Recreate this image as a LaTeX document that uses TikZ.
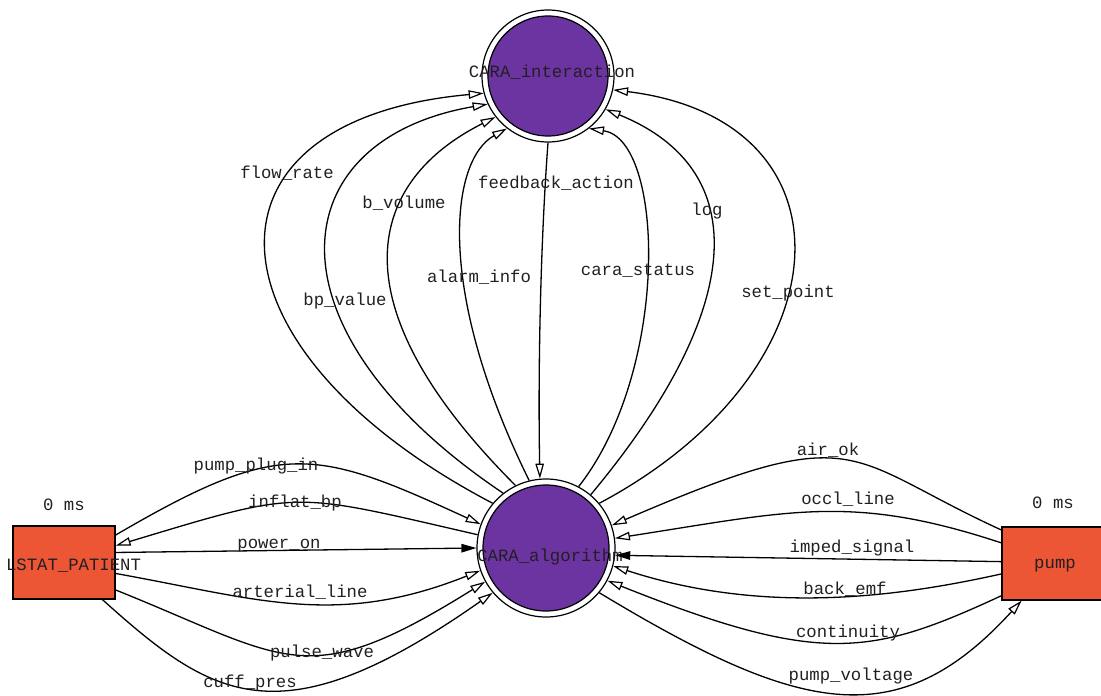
\documentclass[tikz,border=0pt]{standalone}
\usepackage{fontspec}
\setmainfont{Liberation Mono}
\usetikzlibrary{arrows.meta}
\definecolor{nodepurple}{RGB}{108,52,160}
\definecolor{boxred}{RGB}{236,86,52}
\definecolor{inkgray}{RGB}{35,30,35}

\begin{document}
\begin{tikzpicture}[x=1pt,y=-1pt,
  lbl/.style={font=\fontsize{17.3}{17.3}\selectfont, text=inkgray, inner sep=0pt, anchor=base},
  ring/.style={circle, draw, line width=1.2pt, fill=white, inner sep=0pt},
  core/.style={circle, draw, line width=1.2pt, fill=nodepurple, inner sep=0pt},
  box/.style={rectangle, draw, line width=1.2pt, fill=boxred, inner sep=0pt},
  flow/.style={line width=1.3pt, -{Triangle[fill=white, length=15pt, width=8.5pt, line width=1.2pt]}},
  flowsolid/.style={line width=1.3pt, -{Triangle[length=15pt, width=8.5pt]}},
]
\useasboundingbox (0,0) rectangle (1101,696);

% process circles (double ring)
\node[ring, minimum size=132pt] (inter) at (548,76) {};
\node[core, minimum size=120pt] (intercore) at (548,76) {};
\node[lbl] (intertxt) at (552,77) {CARA\_interaction};

\node[ring, minimum size=138pt] (alg) at (546,548) {};
\node[core, minimum size=126pt] (algcore) at (546,548) {};
\node[lbl] (algtxt) at (550,561) {CARA\_algorithm};

% terminator boxes
\node[box, minimum width=102pt, minimum height=73pt] (lstat) at (64,562.5) {};
\node[lbl] (lstattxt) at (73.5,570) {LSTAT\_PATIENT};
\node[lbl] (lstatms) at (64,510) {0 ms};

\node[box, minimum width=106pt, minimum height=73pt] (pump) at (1055,563.5) {};
\node[lbl] (pumptxt) at (1055,568) {pump};
\node[lbl] (pumpms) at (1053,508) {0 ms};

% LSTAT_PATIENT <-> CARA_algorithm
\draw[flow] (lstat.28) .. controls (280,439) and (313,447) .. (alg.160);
\draw[flow] (alg.169) .. controls (289,491.5) and (304,489) .. (lstat.18);
\draw[flowsolid] (lstat.11) -- (alg.180);
\draw[flow] (lstat.-12) .. controls (258,599) and (336,628) .. (alg.199);
\draw[flow] (lstat.-28) .. controls (290,660) and (305,694) .. (alg.209);
\draw[flow] (lstat.-44) .. controls (212,698) and (279,743) .. (alg.220);

% pump <-> CARA_algorithm
\draw[flow] (pump.148) .. controls (842,457) and (862,417.5) .. (alg.19);
\draw[flow] (pump.159) .. controls (852,493.5) and (791,511) .. (alg.8);
\draw[flowsolid] (pump.178) -- (alg.-6);
\draw[flow] (pump.191) .. controls (902,596) and (766,616) .. (alg.-15);
\draw[flow] (pump.211) .. controls (871,656) and (821,666) .. (alg.-28);
\draw[flow] (alg.-40) .. controls (800,714) and (898,736) .. (pump.228);

% CARA_algorithm <-> CARA_interaction
\draw[flow] (alg.140) .. controls (200,350) and (185,120) .. (inter.195);
\draw[flow] (alg.128) .. controls (260,330) and (280,140) .. (inter.205);
\draw[flow] (alg.116) .. controls (330,300) and (370,180) .. (inter.218);
\draw[flow] (alg.104) .. controls (435,290) and (450,160) .. (inter.232);
\draw[flow] (inter.270) .. controls (540,250) and (538,380) .. (alg.95);
\draw[flow] (alg.62) .. controls (670,370) and (665,140) .. (inter.-52);
\draw[flow] (alg.50) .. controls (745,310) and (755,170) .. (inter.-30);
\draw[flow] (alg.40) .. controls (850,370) and (860,120) .. (inter.-12);

% edge labels
\node[lbl] (lflow) at (287,178) {flow\_rate};
\node[lbl] (lbvol) at (404,208) {b\_volume};
\node[lbl] (lfeed) at (556,188) {feedback\_action};
\node[lbl] (llog) at (707,215) {log};
\node[lbl] (lbp) at (345,305) {bp\_value};
\node[lbl] (lalarm) at (479,282) {alarm\_info};
\node[lbl] (lstatus) at (638,275) {cara\_status};
\node[lbl] (lset) at (788,297) {set\_point};

\node[lbl] (lplug) at (256,470) {pump\_plug\_in};
\node[lbl] (linflat) at (295,507) {inflat\_bp};
\node[lbl] (lpower) at (279,548) {power\_on};
\node[lbl] (larter) at (300,597) {arterial\_line};
\node[lbl] (lpulse) at (322,657) {pulse\_wave};
\node[lbl] (lcuff) at (250,687) {cuff\_pres};

\node[lbl] (lair) at (828,455) {air\_ok};
\node[lbl] (loccl) at (848,504) {occl\_line};
\node[lbl] (limped) at (852,552) {imped\_signal};
\node[lbl] (lback) at (845,594) {back\_emf};
\node[lbl] (lcont) at (848,637) {continuity};
\node[lbl] (lvolt) at (851,680) {pump\_voltage};
\end{tikzpicture}
\end{document}
